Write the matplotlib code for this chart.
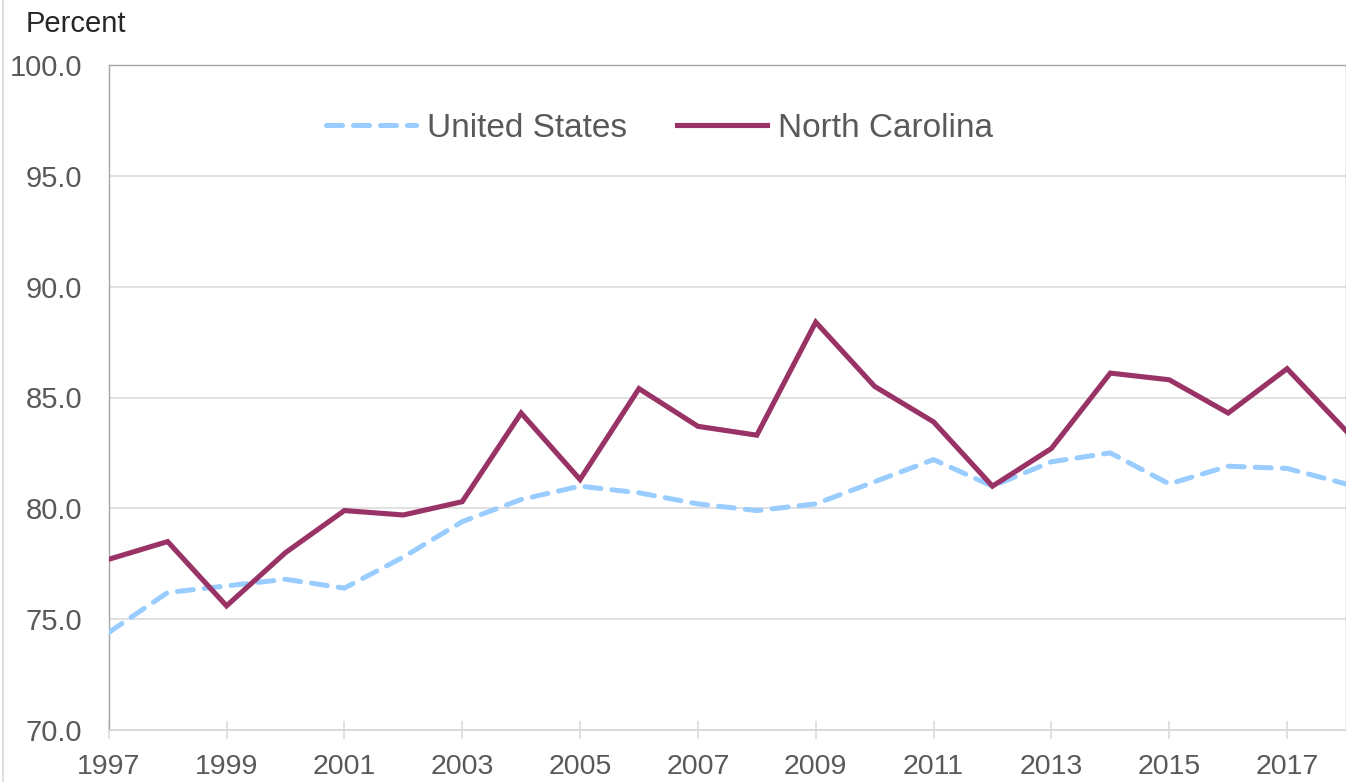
import matplotlib
matplotlib.use("Agg")
import matplotlib.pyplot as plt
from matplotlib.lines import Line2D

years = list(range(1997, 2019))
us_values = [74.4, 76.2, 76.5, 76.8, 76.4, 77.8, 79.4, 80.4, 81.0, 80.7,
             80.2, 79.9, 80.2, 81.2, 82.2, 81.0, 82.1, 82.5, 81.1, 81.9,
             81.8, 81.1]
nc_values = [77.7, 78.5, 75.6, 78.0, 79.9, 79.7, 80.3, 84.3, 81.3, 85.4,
             83.7, 83.3, 88.4, 85.5, 83.9, 81.0, 82.7, 86.1, 85.8, 84.3,
             86.3, 83.5]
y_ticks = [70.0, 75.0, 80.0, 85.0, 90.0, 95.0, 100.0]
x_label_years = list(range(1997, 2018, 2))

plt.rcParams['font.family'] = ['Liberation Sans', 'DejaVu Sans']

W, H = 1346, 782
fig = plt.figure(figsize=(W / 100, H / 100), dpi=100)
ax = fig.add_axes([108.7 / W, 1 - 730 / H, (W - 108.7) / W, (730 - 65) / H])

us_color = '#99CCFF'
nc_color = '#993366'

ax.plot(years, us_values, color=us_color, lw=3.6, dashes=(3.2, 2.2),
        dash_capstyle='round', solid_joinstyle='round', label='United States', zorder=3)
ax.plot(years, nc_values, color=nc_color, lw=3.7, solid_joinstyle='miter',
        label='North Carolina', zorder=4)

ax.set_xlim(1997, 2018)
ax.set_ylim(70, 100)
ax.set_yticks(y_ticks)
ax.set_yticklabels([f"{v:.1f}" for v in y_ticks])
ax.set_xticks(x_label_years)
ax.set_xticklabels([str(y) for y in x_label_years])

ax.grid(axis='y', color='#D9D9D9', lw=1.1)
ax.set_axisbelow(True)

ax.tick_params(axis='y', length=0, pad=19, labelsize=21, labelcolor='#595959')
ax.tick_params(axis='x', direction='inout', length=13, width=1.1, color='#D9D9D9',
               pad=11, labelsize=20.5, labelcolor='#595959')

for s in ['left', 'top', 'right']:
    ax.spines[s].set_color('#A6A6A6')
    ax.spines[s].set_linewidth(1.0)
ax.spines['bottom'].set_color('#D9D9D9')
ax.spines['bottom'].set_linewidth(1.3)

leg = ax.legend(loc='center', bbox_to_anchor=(0.445, 0.905), ncol=2, frameon=False,
                fontsize=24, handlelength=2.7, handletextpad=0.33, columnspacing=1.5)
for t in leg.get_texts():
    t.set_color('#595959')

fig.text(26 / W, 1 - 24 / H, 'Percent', fontsize=21, color='#262626',
         ha='left', va='center')

fig.add_artist(Line2D([2.5 / W, 2.5 / W], [0, 1], transform=fig.transFigure,
                      color='#D9D9D9', lw=1.2))

fig.savefig('out.png', dpi=100)
